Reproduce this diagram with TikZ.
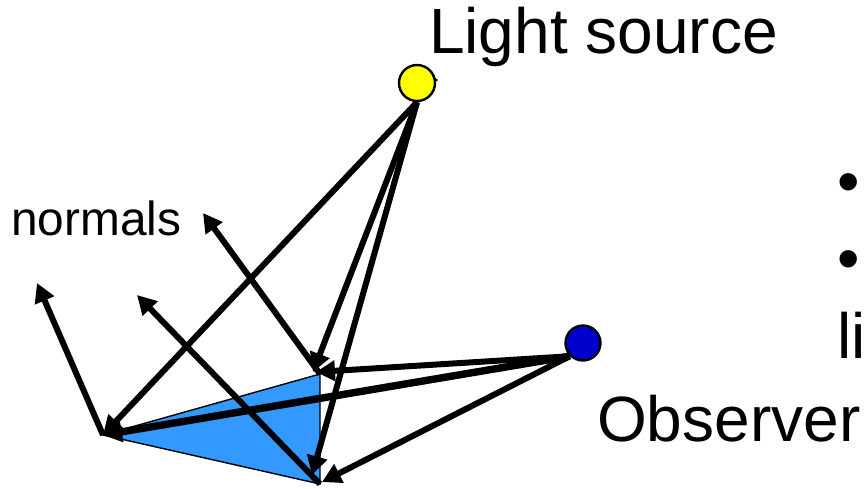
\documentclass[tikz,border=0pt]{standalone}
\usepackage{fontspec}
\setmainfont{Liberation Sans}
\usetikzlibrary{arrows.meta}
\tikzset{
  ray/.style={line width=6pt,-{Triangle[length=19pt,width=20pt]}},
  heavyray/.style={ray,line width=7.4pt},
  bigtext/.style={inner sep=0pt,anchor=base west,font=\fontsize{64}{70}\selectfont},
  smalltext/.style={inner sep=0pt,anchor=base west,font=\fontsize{47.8}{52}\selectfont},
  ball/.style={circle,draw=black,line width=2.4pt,inner sep=0pt}
}
\definecolor{facet}{RGB}{51,153,255}
\definecolor{lightball}{RGB}{255,255,0}
\definecolor{obsball}{RGB}{0,0,204}
\begin{document}
\begin{tikzpicture}[x=1pt,y=-1pt]
\useasboundingbox (0,0) rectangle (865,488);
\clip (0,0) rectangle (865,488);
\coordinate (A) at (103,435);
\coordinate (B) at (320,374);
\coordinate (C) at (320,484);
\coordinate (NA) at (37,283);
\coordinate (NB) at (203,213);
\coordinate (NC) at (137,295);
\coordinate (LB) at (313,372);
\coordinate (LC) at (312,475);
\coordinate (OB) at (316,372);
\coordinate (OC) at (322,482);
\fill[facet,draw=black,line width=1.4pt] (A) -- (B) -- (C) -- cycle;
\fill[black] (438,80) -- (430,74) -- (430,86) -- cycle;
\node[ball,fill=lightball,minimum size=36pt] (light) at (417,83) {};
\node[ball,fill=obsball,minimum size=35pt] (obs) at (583,343) {};
\draw[ray] (A) -- (NA);
\draw[ray] (B) -- (NB);
\draw[ray] (C) -- (NC);
\draw[ray] (light.south) -- (A);
\draw[ray] (light.south) -- (LB);
\draw[ray] (light.south) -- (LC);
\draw[ray] (obs.south west) -- (OB);
\draw[heavyray] (obs.south west) -- (A);
\draw[ray] (obs.south west) -- (OC);
\node[bigtext] (lighttext) at (429,53) {Light source};
\node[smalltext] (normals) at (11,235) {normals};
\node[bigtext] (observer) at (597,441) {Observer};
\node[bigtext] (b1) at (837,203) {•};
\node[bigtext] (b2) at (837,280) {•};
\node[bigtext] (li) at (837,358) {li};
\end{tikzpicture}
\end{document}
